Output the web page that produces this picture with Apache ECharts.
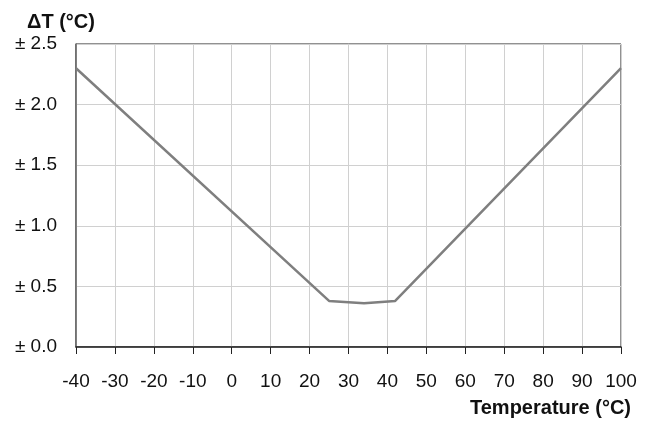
<!DOCTYPE html>
<html>
<head>
<meta charset="utf-8">
<script src="https://cdn.jsdelivr.net/npm/echarts@6/dist/echarts.min.js"></script>
<style>
  html, body { margin: 0; padding: 0; background: #fff; }
  #main { width: 650px; height: 426px; }
</style>
</head>
<body>
<div id="main"></div>
<script>
// temperature (°C) vs accuracy (± °C)
var temps = [-40, 25, 34, 42, 100];
var deltaT = [2.3, 0.38, 0.36, 0.38, 2.3];

var xTicks = { min: -40, max: 100, interval: 10 };
var yTicks = { min: 0, max: 2.5, interval: 0.5 };

var chart = echarts.init(document.getElementById('main'));
var font = '"Liberation Sans", Arial, sans-serif';

chart.setOption({
  animation: false,
  grid: {
    left: 76,
    right: 29,
    top: 44,
    bottom: 79,
    show: true,
    borderColor: '#222',
    borderWidth: 1
  },
  xAxis: {
    type: 'value',
    min: xTicks.min,
    max: xTicks.max,
    interval: xTicks.interval,
    axisLine: { show: true, onZero: false, lineStyle: { color: '#222', width: 1.5 } },
    axisTick: { show: true, inside: false, length: 7, lineStyle: { color: '#222' } },
    axisLabel: { color: '#111', fontSize: 19, fontFamily: font, margin: 25 },
    splitLine: { show: true, lineStyle: { color: '#d0d0d0', width: 1 } }
  },
  yAxis: {
    type: 'value',
    min: yTicks.min,
    max: yTicks.max,
    interval: yTicks.interval,
    axisLine: { show: true, onZero: false, lineStyle: { color: '#666', width: 1.5 } },
    axisTick: { show: false },
    axisLabel: {
      color: '#111', fontSize: 19, fontFamily: font, margin: 19,
      formatter: function (v) { return '± ' + v.toFixed(1); }
    },
    splitLine: { show: true, lineStyle: { color: '#d0d0d0', width: 1 } }
  },
  graphic: [
    {
      type: 'text', left: 27, top: 12,
      style: { text: 'ΔT (°C)', font: 'bold 20px ' + font, fill: '#111' }
    },
    {
      type: 'text', right: 19, top: 398,
      style: { text: 'Temperature (°C)', font: 'bold 20px ' + font, fill: '#111' }
    }
  ],
  series: [
    {
      type: 'line',
      data: temps.map(function (t, i) { return [t, deltaT[i]]; }),
      symbol: 'none',
      lineStyle: { color: '#7f7f7f', width: 2.5 }
    }
  ]
});
</script>
</body>
</html>
